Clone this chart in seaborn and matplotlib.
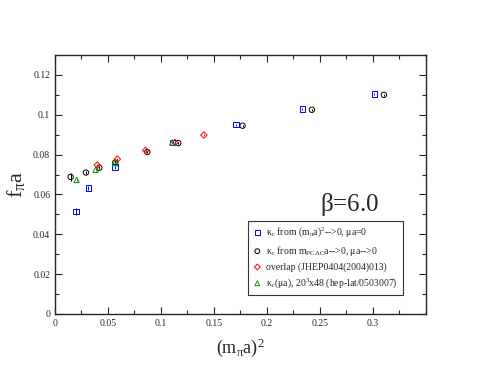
import numpy as np
import pandas as pd
import matplotlib
matplotlib.use("Agg")
import matplotlib.pyplot as plt
import seaborn as sns

# Data
blue_x = [0.0198, 0.0314, 0.0566, 0.1110, 0.1708, 0.2333, 0.3012]
blue_y = [0.0513, 0.0632, 0.0737, 0.0862, 0.0950, 0.1029, 0.1104]
blue_e = [0.0018, 0.0008, 0.0008, 0.0006, 0.0006, 0.0006, 0.0006]

black_x = [0.0148, 0.0292, 0.0418, 0.0569, 0.0871, 0.1163, 0.1770, 0.2424, 0.3103]
black_y = [0.0688, 0.0710, 0.0734, 0.0760, 0.0813, 0.0858, 0.0945, 0.1025, 0.1100]
black_e = [0.0022, 0.0008, 0.0008, 0.0007, 0.0007, 0.0006, 0.0006, 0.0006, 0.0006]

red_x = [0.0399, 0.0588, 0.0855, 0.1132, 0.1405]
red_y = [0.0747, 0.0777, 0.0821, 0.0861, 0.0898]
red_e = [0.0007, 0.0007, 0.0006, 0.0006, 0.0006]

green_x = [0.0204, 0.0383, 0.0566, 0.1106]
green_y = [0.0673, 0.0724, 0.0757, 0.0861]
green_e = [0.0006, 0.0005, 0.0005, 0.0004]

labels = [
    r"$\kappa_c$ from $(m_\pi a)^2$-->0, $\mu$a=0",
    r"$\kappa_c$ from $m_{PCAC}$a-->0, $\mu$a-->0",
    "overlap (JHEP0404(2004)013)",
    r"$\kappa_c(\mu$a), 20$^3$x48 (hep-lat/0503007)",
]

sns.set_style("ticks")
plt.rcParams["font.family"] = ["Liberation Serif", "DejaVu Serif"]
plt.rcParams["mathtext.fontset"] = "custom"
plt.rcParams["mathtext.rm"] = "Liberation Serif"
plt.rcParams["mathtext.it"] = "Liberation Serif"
plt.rcParams["mathtext.default"] = "regular"
plt.rcParams["xtick.direction"] = "in"
plt.rcParams["ytick.direction"] = "in"

fig = plt.figure(figsize=(4.79, 3.70), dpi=100)
ax = fig.add_axes([0.1148, 0.1514, 0.7745, 0.7000])

series = [
    (blue_x, blue_y, blue_e, "s", "#0000ff", labels[0]),
    (black_x, black_y, black_e, "o", "#000000", labels[1]),
    (red_x, red_y, red_e, "D", "#ff0000", labels[2]),
    (green_x, green_y, green_e, "^", "#00a000", labels[3]),
]

for xs, ys, es, m, c, lab in series:
    df = pd.DataFrame({"x": xs, "y": ys})
    ax.errorbar(xs, ys, yerr=es, fmt="none", ecolor=c, elinewidth=0.7, capsize=0)
    sns.scatterplot(data=df, x="x", y="y", marker=m, s=15 if m != "D" else 11,
                    facecolor="none", edgecolor=c, linewidth=0.7, ax=ax, label=lab)

ax.set_xlim(0, 0.35)
ax.set_ylim(0, 0.13)
ax.set_xticks(np.arange(0, 0.301, 0.05))
ax.set_xticklabels(["0", "0.05", "0.1", "0.15", "0.2", "0.25", "0.3"])
ax.set_xticks(np.arange(0, 0.351, 0.025), minor=True)
ax.set_yticks(np.arange(0, 0.121, 0.02))
ax.set_yticklabels(["0", "0.02", "0.04", "0.06", "0.08", "0.1", "0.12"])
ax.set_yticks(np.arange(0, 0.131, 0.01), minor=True)
ax.tick_params(which="both", top=True, right=True, labelsize=7, width=0.8)
ax.tick_params(which="major", length=5)
ax.tick_params(which="minor", length=3)
for sp in ax.spines.values():
    sp.set_linewidth(1.0)

ax.set_xlabel(r"(m$_\pi$a)$^2$", fontsize=13, labelpad=6)
ax.set_ylabel(r"f$_\pi$a", fontsize=16, labelpad=4)

ax.text(0.306, 0.0548, r"$\beta$=6.0", fontsize=18, ha="right", va="center")

leg = ax.legend(loc="lower right", bbox_to_anchor=(0.95, 0.055), fontsize=7,
                frameon=True, fancybox=False, edgecolor="black",
                handletextpad=0.4, borderpad=0.5, labelspacing=0.45, handlelength=1.0,
                markerscale=0.9)
leg.get_frame().set_linewidth(0.8)

fig.savefig("out.png", dpi=100)
